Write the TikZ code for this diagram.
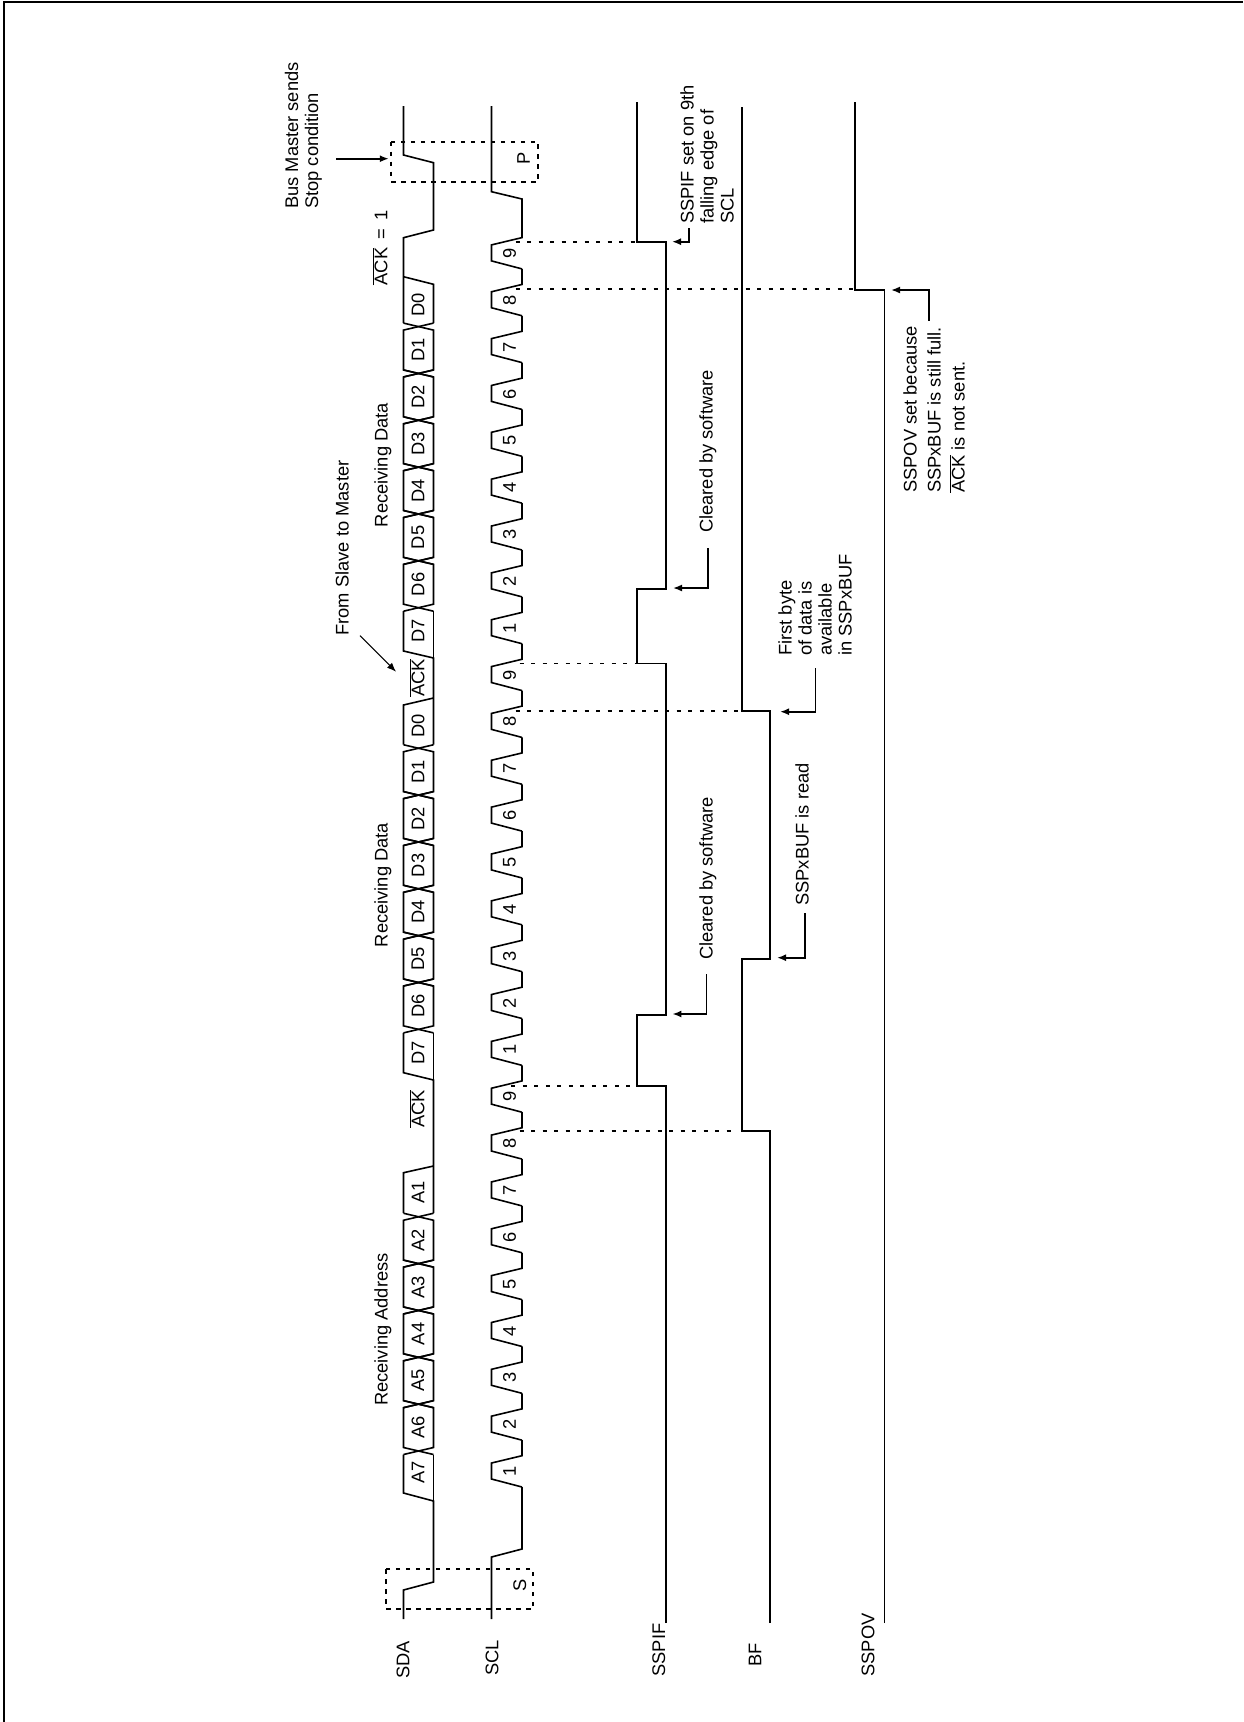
\documentclass[tikz,border=0pt]{standalone}
\usepackage{fontspec}
\setmainfont{Liberation Sans}
\usepackage{tikz}
\usetikzlibrary{arrows.meta,positioning}

\begin{document}
\begin{tikzpicture}[x=1pt,y=-1pt,>={Latex[length=9pt,width=7pt]},font=\fontsize{18.3}{20}\selectfont]
    \tikzstyle{wave}=[line width=1.6pt,line join=miter]
    \tikzstyle{sigline}=[line width=1.7pt]
    \tikzstyle{dotline}=[line width=1.8pt,dash pattern=on 4pt off 7.5pt]
    \tikzstyle{boxline}=[line width=1.6pt,dash pattern=on 4.5pt off 5.5pt]
    \tikzstyle{pointer}=[line width=1.7pt,->]
    \tikzstyle{vtext}=[rotate=90,inner sep=0pt]
    \tikzstyle{vnote}=[rotate=90,inner sep=0pt,anchor=west,align=left]

    \useasboundingbox (0,0) rectangle (1243,1722);
    \draw[line width=2pt] (4,1722) -- (4,2) -- (1243,2);

    \def\sdaL{403.5}
    \def\sdaR{433.5}
    \def\sclL{491.5}
    \def\sclR{522}

    % SDA
    \draw[wave] (\sdaL,1619) -- (\sdaL,1590) -- (\sdaR,1582) -- (\sdaR,1501) -- (\sdaL,1493) -- (\sdaL,1454.5);
    \draw[wave] (\sdaR,1501) -- (\sdaR,1454.5);
    \foreach \k/\lbl in {0/A6,1/A5,2/A4,3/A3,4/A2,9/D6,10/D5,11/D4,12/D3,13/D2,14/D1,18/D6,19/D5,20/D4,21/D3,22/D2,23/D1} {
      \pgfmathsetmacro{\cb}{1451-46.85*\k}
      \pgfmathsetmacro{\ct}{\cb-46.85}
      \draw[wave] (\sdaL,\cb+3.5) -- (\sdaR,\cb-3.5) -- (\sdaR,\ct+3.5) -- (\sdaL,\ct-3.5);
      \draw[wave] (\sdaR,\cb+3.5) -- (\sdaL,\cb-3.5) -- (\sdaL,\ct+3.5) -- (\sdaR,\ct-3.5);
      \node[vtext] (cell\k) at (418,\cb-23.4) {\lbl};
    }
    \draw[wave] (\sdaL,1213.2) -- (\sdaL,1172.7) -- (\sdaR,1166);
    \draw[wave] (\sdaR,1213.2) -- (\sdaR,1080) -- (\sdaL,1072.7) -- (\sdaL,1032.9);
    \draw[wave] (\sdaR,1080) -- (\sdaR,1032.9);
    \draw[wave] (\sdaL,744.5) -- (\sdaL,705) -- (\sdaR,698);
    \draw[wave] (\sdaR,744.5) -- (\sdaR,658) -- (\sdaL,651) -- (\sdaL,611.2);
    \draw[wave] (\sdaR,658) -- (\sdaR,611.2);
    \draw[wave] (\sdaR,323) -- (\sdaR,284.3) -- (\sdaL,276.7);
    \draw[wave] (\sdaL,323) -- (\sdaL,237.7) -- (\sdaR,230) -- (\sdaR,162.7) -- (\sdaL,155) -- (\sdaL,106);

    \node[vtext] (a7) at (418,1472) {A7};
    \node[vtext] (a1) at (418,1192) {A1};
    \node[vtext] (d7a) at (418,1053) {D7};
    \node[vtext] (d0a) at (418,726) {D0};
    \node[vtext] (d7b) at (418,631) {D7};
    \node[vtext] (d0b) at (418,305) {D0};
    \node[vtext] (acka) at (417,1109) {$\overline{\mbox{ACK}}$};
    \node[vtext] (ackb) at (417,678) {$\overline{\mbox{ACK}}$};
    \node[vtext] (ackc) at (380,248) {$\overline{\mbox{ACK}}$\hspace{3pt} =\hspace{3pt} 1};

    % SCL
    \draw[wave] (\sclL,1619) -- (\sclL,1557) -- (\sclR,1549) -- (\sclR,1487);
    \foreach \i in {0,...,26} {
      \pgfmathsetmacro{\b}{1487-46.85*\i}
      \pgfmathtruncatemacro{\digit}{mod(\i,9)+1}
      \draw[wave] (\sclR,\b) -- (\sclL,\b-8) -- (\sclL,\b-24) -- (\sclR,\b-31.3) -- (\sclR,\b-46.85);
      \node[vtext] (clk\i) at (509.5,\b-15.5) {\digit};
    }
    \draw[wave] (\sclR,222) -- (\sclR,199) -- (\sclL,191.7) -- (\sclL,106);

    % flags
    \draw[sigline] (666.2,1623) -- (666.2,1085.7) -- (637.1,1085.7) -- (637.1,1015) -- (666.2,1015) -- (666.2,663.5) -- (637.1,663.5) -- (637.1,589.3) -- (666.2,589.3) -- (666.2,242) -- (637.1,242) -- (637.1,102);
    \draw[sigline] (770.3,1623) -- (770.3,1131) -- (741.7,1131) -- (741.7,959) -- (770.3,959) -- (770.3,710.7) -- (741.7,710.7) -- (741.7,107);
    \draw[sigline] (884.6,1623) -- (884.6,290) -- (855,290) -- (855,102);

    % dotted guides
    \coordinate (nineA) at (511.4,1085.7);
    \coordinate (nineAe) at (631,1085.7);
    \coordinate (eightA) at (519.7,1131);
    \coordinate (eightAe) at (733,1131);
    \coordinate (nineB) at (519.7,663.5);
    \coordinate (nineBe) at (637,663.5);
    \coordinate (eightB) at (515.6,710.7);
    \coordinate (eightBe) at (741.7,710.7);
    \coordinate (nineC) at (515.5,242);
    \coordinate (nineCe) at (637,242);
    \coordinate (eightC) at (515.5,289);
    \coordinate (eightCe) at (855,289);
    \draw[dotline] (nineA) -- (nineAe);
    \draw[dotline] (eightA) -- (eightAe);
    \draw[dotline] (nineB) -- (nineBe);
    \draw[dotline] (eightB) -- (eightBe);
    \draw[dotline] (nineC) -- (nineCe);
    \draw[dotline] (eightC) -- (eightCe);

    % start and stop boxes
    \draw[boxline] (386,1569) rectangle (533,1609);
    \draw[boxline] (391,141.7) rectangle (538,181.7);
    \node[vtext] (start) at (519.7,1585.7) {S};
    \node[vtext] (stop) at (523.5,158) {P};

    % signal names
    \node[vtext] (sda) at (403,1660) {SDA};
    \node[vtext] (scl) at (492,1658) {SCL};
    \node[vtext] (sspif) at (658.7,1650) {SSPIF};
    \node[vtext] (bf) at (755,1655) {BF};
    \node[vtext] (sspov) at (868,1645) {SSPOV};

    % notes
    \node[vtext] (rxaddr) at (383,1329.5) {Receiving Address};
    \node[vtext] (rxdataA) at (383,885) {Receiving Data};
    \node[vtext] (rxdataB) at (383,465) {Receiving Data};
    \node[vtext] (slave) at (342,548) {From Slave to Master};
    \node[vnote] (master) at (303.5,209) {Bus Master sends\\Stop condition};
    \node[vtext] (clearA) at (708,878.5) {Cleared by software};
    \node[vtext] (clearB) at (708,451.5) {Cleared by software};
    \node[vtext] (read) at (802,834.5) {SSPxBUF is read};
    \node[vnote] (firstbyte) at (815,656) {First byte\\of data is\\available\\in SSPxBUF};
    \node[vnote] (setif) at (707,224) {SSPIF set on 9th\\falling edge of\\SCL};
    \node[vnote] (setov) at (934,493) {SSPOV set because\\[4pt]SSPxBUF is still full.\\[4pt]$\overline{\mbox{ACK}}$ is not sent.};

    % pointers
    \coordinate (slaveS) at (360,635.7);
    \coordinate (slaveE) at (396,671.7);
    \coordinate (stopS) at (336,158.7);
    \coordinate (stopE) at (388.8,158.7);
    \coordinate (clearAs) at (706.4,974);
    \coordinate (clearAe) at (672.4,1014);
    \coordinate (clearBs) at (707.7,548);
    \coordinate (clearBe) at (673,588);
    \coordinate (readS) at (804.8,913);
    \coordinate (readE) at (777,957.7);
    \coordinate (firstS) at (815.6,668);
    \coordinate (firstE) at (780,711.7);
    \coordinate (setifS) at (689,228);
    \coordinate (setifE) at (672,241.7);
    \coordinate (setovS) at (929,320.7);
    \coordinate (setovE) at (891,290);
    \draw[line width=1pt,->] (slaveS) -- (slaveE);
    \draw[pointer] (stopS) -- (stopE);
    \draw[pointer] (clearAs) |- (clearAe);
    \draw[pointer] (clearBs) |- (clearBe);
    \draw[pointer] (readS) |- (readE);
    \draw[pointer] (firstS) |- (firstE);
    \draw[pointer] (setifS) |- (setifE);
    \draw[pointer] (setovS) |- (setovE);
\end{tikzpicture}
\end{document}
